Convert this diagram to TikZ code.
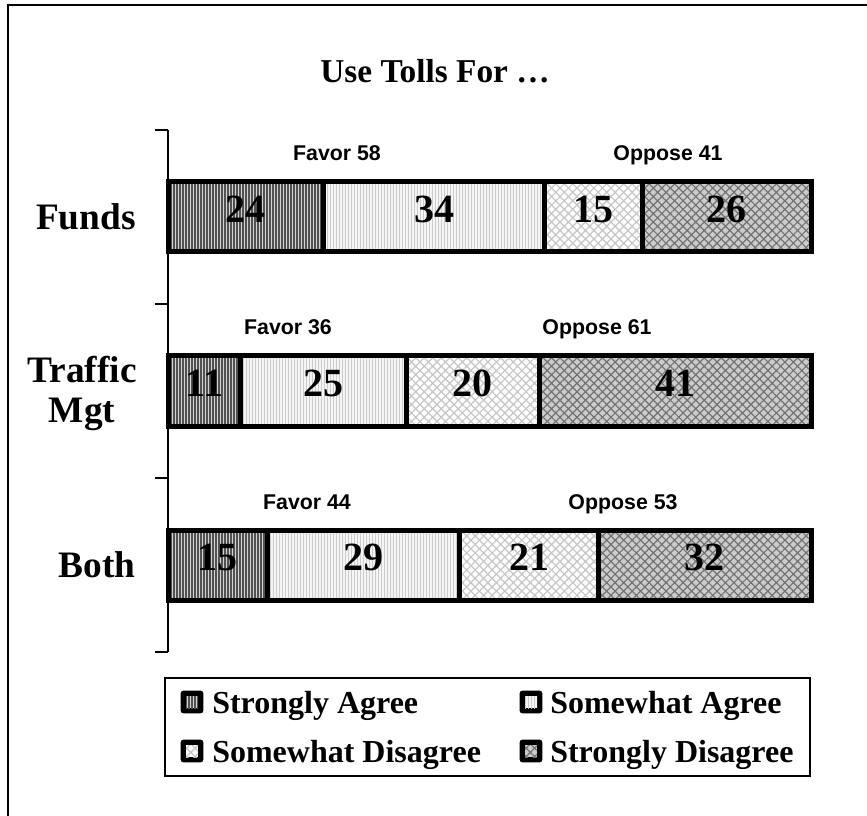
\documentclass[tikz,border=0pt]{standalone}
\usepackage{fontspec}
\setmainfont{Liberation Serif}
\newfontfamily\labelfont{Liberation Sans}
\usetikzlibrary{patterns.meta}

\tikzset{
	stragree/.style={fill=gray!35, postaction={pattern={Lines[angle=90,distance=2.25pt,line width=0.8pt]}, pattern color=black!68}},
	smagree/.style={fill=gray!8, postaction={pattern={Lines[angle=90,distance=2.25pt,line width=0.75pt]}, pattern color=gray!40}},
	smdisagree/.style={fill=white, postaction={pattern={Hatch[angle=45,distance=4.5pt,line width=0.9pt]}, pattern color=gray!45}},
	strdisagree/.style={fill=gray!40, postaction={pattern={Hatch[angle=45,distance=4.5pt,line width=0.9pt]}, pattern color=black!55}},
	barline/.style={draw=black, line width=3.75pt},
	numlabel/.style={font=\bfseries\fontsize{30}{30}\selectfont},
	catlabel/.style={anchor=east, align=center, inner sep=0pt, font=\bfseries\fontsize{28}{30}\selectfont},
	grplabel/.style={anchor=base, font=\labelfont\bfseries\fontsize{16}{16}\selectfont},
	legtext/.style={anchor=base west, inner sep=0pt, font=\bfseries\fontsize{24}{24}\selectfont},
	legmark/.style={fill=black, rounded corners=2pt, minimum size=17pt, inner sep=0pt},
	legswatch/.style={minimum size=9pt, inner sep=0pt},
}

\begin{document}
\begin{tikzpicture}[x=0.75pt, y=-0.75pt]
			\useasboundingbox (0,0) rectangle (867,816);
			\draw[line width=1.5pt] (867,5) -- (8,5) -- (8,816);

			\node[font=\bfseries\fontsize{25}{25}\selectfont] (title) at (435,71){Use Tolls For …};

			% axis
			\draw[line width=0.9pt] (168,130) to (168,652);
				\draw[line width=0.9pt] (155,130) to (168,130);
				\draw[line width=0.9pt] (155,304) to (168,304);
				\draw[line width=0.9pt] (155,478) to (168,478);
				\draw[line width=0.9pt] (155,652) to (168,652);

			\node[catlabel] (funds) at (136,217){Funds};
			\node[catlabel] (traffic) at (137,393){Traffic\\Mgt};
			\node[catlabel] (both) at (136,565){Both};

			% Funds
				\fill[stragree] (168,182) rectangle (323.9,252);
				\fill[smagree] (323.9,182) rectangle (544.7,252);
				\fill[smdisagree] (544.7,182) rectangle (642.1,252);
				\fill[strdisagree] (642.1,182) rectangle (811,252);
				\draw[barline] (168,182) rectangle (323.9,252);
				\draw[barline] (323.9,182) rectangle (544.7,252);
				\draw[barline] (544.7,182) rectangle (642.1,252);
				\draw[barline] (642.1,182) rectangle (811,252);
				\node[numlabel] (f24) at (245.9,209){24};
				\node[numlabel] (f34) at (434.3,209){34};
				\node[numlabel] (f15) at (593.4,209){15};
				\node[numlabel] (f26) at (726.6,209){26};
				\node[grplabel] (ffavor) at (337,161){Favor 58};
				\node[grplabel] (foppose) at (668,161){Oppose 41};

			% Traffic Mgt
				\fill[stragree] (168,356) rectangle (240.9,426);
				\fill[smagree] (240.9,356) rectangle (406.6,426);
				\fill[smdisagree] (406.6,356) rectangle (539.2,426);
				\fill[strdisagree] (539.2,356) rectangle (811,426);
				\draw[barline] (168,356) rectangle (240.9,426);
				\draw[barline] (240.9,356) rectangle (406.6,426);
				\draw[barline] (406.6,356) rectangle (539.2,426);
				\draw[barline] (539.2,356) rectangle (811,426);
				\node[numlabel] (t11) at (204.5,383){11};
				\node[numlabel] (t25) at (323.8,383){25};
				\node[numlabel] (t20) at (472.9,383){20};
				\node[numlabel] (t41) at (675.1,383){41};
				\node[grplabel] (tfavor) at (288,335){Favor 36};
				\node[grplabel] (toppose) at (597,335){Oppose 61};

			% Both
				\fill[stragree] (168,530) rectangle (267.4,600);
				\fill[smagree] (267.4,530) rectangle (459.6,600);
				\fill[smdisagree] (459.6,530) rectangle (598.8,600);
				\fill[strdisagree] (598.8,530) rectangle (811,600);
				\draw[barline] (168,530) rectangle (267.4,600);
				\draw[barline] (267.4,530) rectangle (459.6,600);
				\draw[barline] (459.6,530) rectangle (598.8,600);
				\draw[barline] (598.8,530) rectangle (811,600);
				\node[numlabel] (b15) at (217.7,557){15};
				\node[numlabel] (b29) at (363.5,557){29};
				\node[numlabel] (b21) at (529.2,557){21};
				\node[numlabel] (b32) at (704.9,557){32};
				\node[grplabel] (bfavor) at (307,509){Favor 44};
				\node[grplabel] (boppose) at (623,509){Oppose 53};

			% legend
			\draw[line width=1pt] (165,678) rectangle (810,776);
				\node[legmark] (m1) at (192,702){};
				\node[legswatch, stragree] at (m1){};
				\node[legtext] (l1) at (212,713){Strongly Agree};
				\node[legmark] (m2) at (531,702){};
				\node[legswatch, smagree] at (m2){};
				\node[legtext] (l2) at (550,713){Somewhat Agree};
				\node[legmark] (m3) at (192,751){};
				\node[legswatch, smdisagree] at (m3){};
				\node[legtext] (l3) at (212,762){Somewhat Disagree};
				\node[legmark] (m4) at (531,751){};
				\node[legswatch, strdisagree] at (m4){};
				\node[legtext] (l4) at (550,762){Strongly Disagree};

\end{tikzpicture}
\end{document}
